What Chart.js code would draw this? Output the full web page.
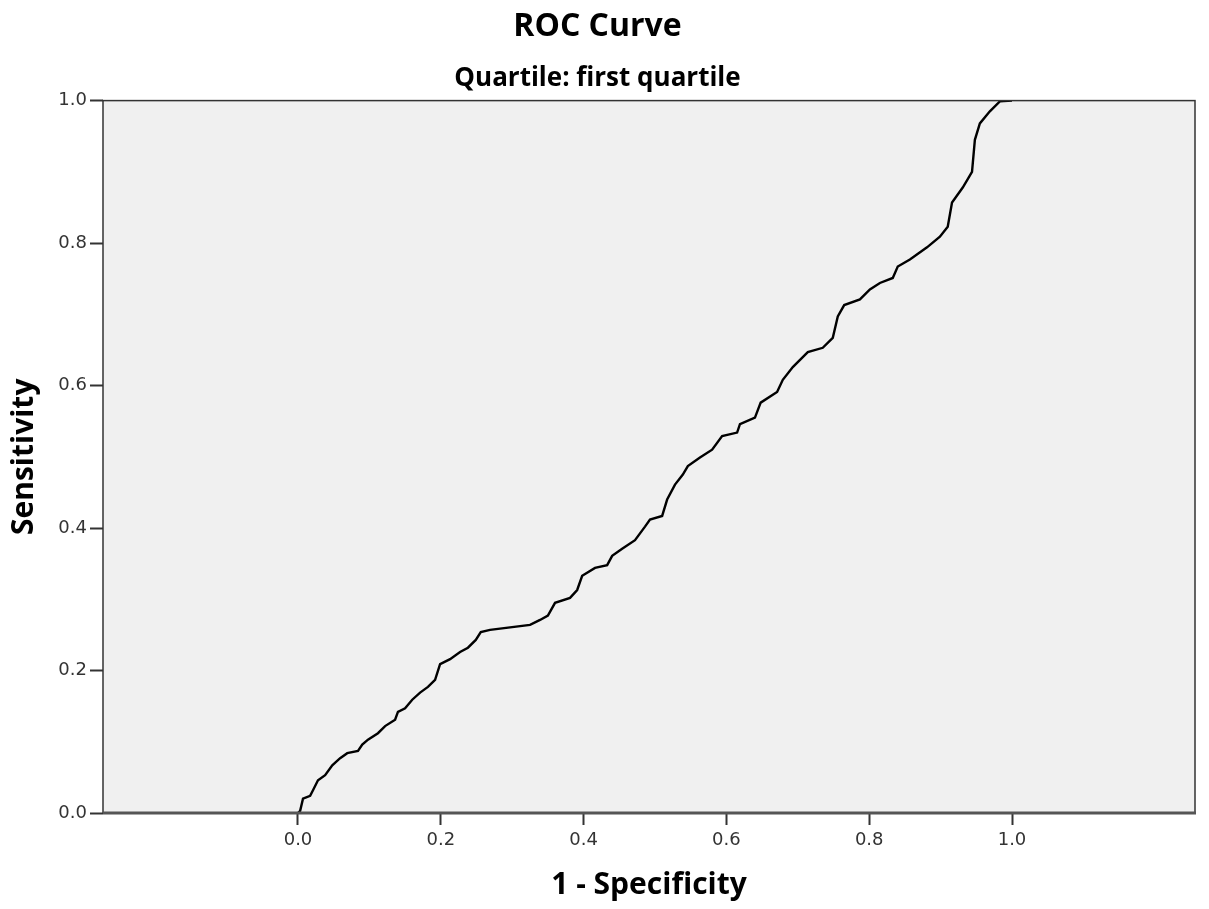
<!DOCTYPE html>
<html>
<head>
<meta charset="utf-8">
<script src="https://cdn.jsdelivr.net/npm/chart.js@4"></script>
<style>
  html, body { margin: 0; padding: 0; background: #fff; }
  #wrap { width: 1209px; height: 909px; }
</style>
</head>
<body>
<div id="wrap"><canvas id="roc"></canvas></div>
<script>
// 1 - specificity (false positive rate)
const fpr = [0.000, 0.003, 0.007, 0.017, 0.021, 0.028, 0.038, 0.048, 0.059, 0.069,
  0.084, 0.090, 0.098, 0.112, 0.122, 0.136, 0.140, 0.150, 0.160, 0.171,
  0.182, 0.192, 0.199, 0.213, 0.227, 0.238, 0.249, 0.256, 0.269, 0.325,
  0.339, 0.350, 0.360, 0.381, 0.391, 0.398, 0.416, 0.433, 0.440, 0.454,
  0.472, 0.486, 0.493, 0.510, 0.517, 0.528, 0.539, 0.546, 0.563, 0.580,
  0.594, 0.615, 0.619, 0.640, 0.648, 0.671, 0.679, 0.693, 0.714, 0.735,
  0.749, 0.756, 0.765, 0.787, 0.801, 0.815, 0.833, 0.840, 0.857, 0.881,
  0.899, 0.910, 0.916, 0.931, 0.944, 0.948, 0.955, 0.969, 0.983, 1.000];
// sensitivity (true positive rate)
const tpr = [0.000, 0.003, 0.020, 0.024, 0.032, 0.046, 0.053, 0.067, 0.077, 0.084,
  0.087, 0.096, 0.103, 0.112, 0.122, 0.131, 0.142, 0.147, 0.159, 0.169,
  0.177, 0.187, 0.209, 0.216, 0.226, 0.232, 0.243, 0.254, 0.257, 0.264,
  0.271, 0.277, 0.295, 0.302, 0.313, 0.333, 0.344, 0.348, 0.361, 0.371,
  0.383, 0.402, 0.412, 0.417, 0.440, 0.461, 0.475, 0.487, 0.499, 0.510,
  0.529, 0.534, 0.546, 0.555, 0.576, 0.591, 0.608, 0.626, 0.647, 0.653,
  0.667, 0.697, 0.713, 0.721, 0.735, 0.744, 0.751, 0.767, 0.777, 0.794,
  0.809, 0.823, 0.857, 0.878, 0.900, 0.945, 0.968, 0.985, 0.999, 1.000];
const xTicks = [0, 0.2, 0.4, 0.6, 0.8, 1.0];
const yTicks = [0, 0.2, 0.4, 0.6, 0.8, 1.0];

const points = fpr.map((v, i) => ({ x: v, y: tpr[i] }));

// plot panel: grey fill and frame like SPSS output
const panel = {
  id: 'panel',
  beforeDraw(chart) {
    const a = chart.chartArea, c = chart.ctx;
    c.save();
    c.fillStyle = '#f0f0f0';
    c.fillRect(a.left, a.top, a.right - a.left, a.bottom - a.top);
    c.restore();
  },
  afterDraw(chart) {
    const a = chart.chartArea, c = chart.ctx;
    c.save();
    c.strokeStyle = '#333';
    c.lineWidth = 1.5;
    c.strokeRect(a.left, a.top, a.right - a.left, a.bottom - a.top);
    c.strokeStyle = '#555';
    c.lineWidth = 3;
    c.beginPath();
    c.moveTo(a.left, a.bottom);
    c.lineTo(a.right + 1, a.bottom);
    c.stroke();
    c.restore();
  }
};

new Chart(document.getElementById('roc'), {
  type: 'scatter',
  data: {
    datasets: [{
      data: points,
      showLine: true,
      borderColor: '#000',
      borderWidth: 2.4,
      pointRadius: 0,
      tension: 0
    }]
  },
  options: {
    responsive: true,
    maintainAspectRatio: false,
    animation: false,
    layout: { padding: { left: 0, right: 14, top: 0, bottom: 0 } },
    plugins: {
      legend: { display: false },
      tooltip: { enabled: false },
      title: {
        display: true,
        text: 'ROC Curve',
        color: '#000',
        font: { family: 'Open Sans', size: 32, weight: 'bold' },
        padding: { top: 8, bottom: 2 }
      },
      subtitle: {
        display: true,
        text: 'Quartile: first quartile',
        color: '#000',
        font: { family: 'Open Sans', size: 26, weight: 'bold' },
        padding: { top: 15, bottom: 6 }
      }
    },
    scales: {
      x: {
        type: 'linear',
        min: -0.2731,
        max: 1.2563,
        afterBuildTicks: s => { s.ticks = xTicks.map(v => ({ value: v })); },
        afterFit: s => { s.height = 96; },
        grid: { drawOnChartArea: false, tickLength: 12, tickColor: '#333', tickWidth: 2 },
        border: { display: false },
        ticks: {
          color: '#333',
          font: { family: 'DejaVu Sans', size: 18 },
          padding: 5,
          maxRotation: 0,
          callback: v => v.toFixed(1)
        },
        title: {
          display: true,
          text: '1 - Specificity',
          color: '#000',
          font: { family: 'Open Sans', size: 30, weight: 'bold' },
          padding: { top: 2, bottom: 6 }
        }
      },
      y: {
        type: 'linear',
        min: 0,
        max: 1,
        afterBuildTicks: s => { s.ticks = yTicks.map(v => ({ value: v })); },
        afterFit: s => { s.width = 103; },
        grid: { drawOnChartArea: false, tickLength: 13, tickColor: '#333', tickWidth: 2 },
        border: { display: false },
        ticks: {
          color: '#333',
          font: { family: 'DejaVu Sans', size: 18 },
          padding: 3,
          callback: v => v.toFixed(1)
        },
        title: {
          display: true,
          text: 'Sensitivity',
          color: '#000',
          font: { family: 'Open Sans', size: 30, weight: 'bold' },
          padding: { top: 6, bottom: 2 }
        }
      }
    }
  },
  plugins: [panel]
});
</script>
</body>
</html>
